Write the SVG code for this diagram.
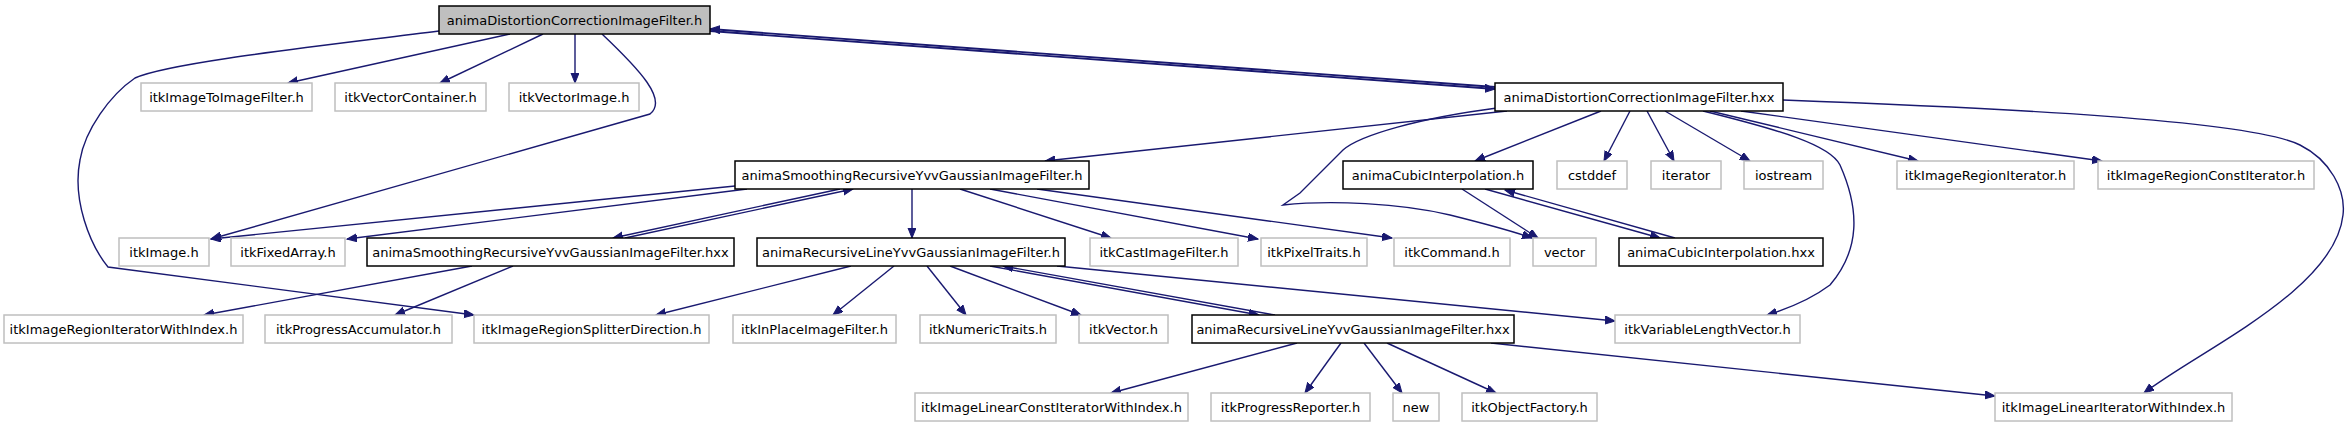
<svg xmlns="http://www.w3.org/2000/svg" width="2346" height="427" viewBox="0 0 2346 427">
<defs>
<style>
.n rect{fill:#fff;stroke:#bfbfbf;stroke-width:1.5}
.n.a rect{stroke:#000}
.n.r rect{fill:#bfbfbf;stroke:#000}
.n text{font-family:"DejaVu Sans",sans-serif;font-size:13px;fill:#000;text-anchor:middle}
#edges path{fill:none;stroke:#191970;stroke-width:1.4;marker-end:url(#ah)}
#edges path.b{stroke-width:1.8}
</style>
<marker id="ah" markerUnits="userSpaceOnUse" markerWidth="11" markerHeight="9" refX="10" refY="4" orient="auto" viewBox="0 0 11 9">
<path d="M0,0 L10,4 L0,8 z" fill="#191970" stroke="#191970" stroke-width="1"/>
</marker>
</defs>
<rect width="2346" height="427" fill="#fff"/>
<g id="edges">
<path d="M510,34 L288,83"/>
<path d="M543,34 L440,83"/>
<path d="M575,34 L575,83"/>
<path d="M602,34 C640,70 668,100 650,114 L211,239"/>
<path d="M439,31 C330,45 170,62 135,78 C110,95 85,130 80,160 C72,200 90,245 108,267 L474,315"/>
<path class="b" d="M710,31 L1495,89"/>
<path class="b" d="M1495,87 L710,29"/>
<path d="M1507,111 L1045,161"/>
<path d="M1497,108 C1420,118 1360,135 1343,150 L1300,193 L1283,205 C1330,200 1400,203 1450,215 C1490,225 1515,232 1532,238"/>
<path d="M1601,111 L1475,161"/>
<path d="M1630,111 L1604,161"/>
<path d="M1647,111 L1674,161"/>
<path d="M1665,111 L1750,161"/>
<path d="M1703,111 C1780,130 1830,145 1840,165 C1860,210 1860,250 1830,285 C1810,300 1790,308 1767,315"/>
<path d="M1710,111 L1918,161"/>
<path d="M1741,111 L2102,161"/>
<path d="M1783,100 C2000,108 2250,120 2300,145 C2330,160 2346,190 2343,215 C2335,290 2200,350 2144,393"/>
<path d="M735,186 L211,239"/>
<path d="M747,189 L347,239"/>
<path d="M840,189 L613,238"/>
<path d="M625,238 L853,189"/>
<path d="M912,189 L912,238"/>
<path d="M960,189 L1111,238"/>
<path d="M990,189 L1258,239"/>
<path d="M1037,189 L1392,238"/>
<path d="M472,266 L204,315"/>
<path d="M513,266 L395,315"/>
<path d="M851,266 L656,315"/>
<path d="M894,266 L833,315"/>
<path d="M927,266 L966,315"/>
<path d="M950,266 L1081,315"/>
<path d="M990,266 L1259,315"/>
<path d="M1275,315 L1003,266"/>
<path d="M1057,266 L1615,321"/>
<path d="M1297,343 L1111,393"/>
<path d="M1341,343 L1305,393"/>
<path d="M1364,343 L1402,393"/>
<path d="M1387,343 L1496,393"/>
<path d="M1491,343 L1995,396"/>
<path d="M1462,189 L1538,238"/>
<path d="M1485,189 L1660,238"/>
<path d="M1675,238 L1505,190"/>
</g>
<g id="n_root" class="n r"><rect x="439" y="6" width="271" height="28"/><text x="574.5" y="24.5">animaDistortionCorrectionImageFilter.h</text></g>
<g id="n_itkImageToImageFilter" class="n"><rect x="141" y="83" width="171" height="28"/><text x="226.5" y="101.5">itkImageToImageFilter.h</text></g>
<g id="n_itkVectorContainer" class="n"><rect x="335" y="83" width="151" height="28"/><text x="410.5" y="101.5">itkVectorContainer.h</text></g>
<g id="n_itkVectorImage" class="n"><rect x="509" y="83" width="130" height="28"/><text x="574" y="101.5">itkVectorImage.h</text></g>
<g id="n_hxx" class="n a"><rect x="1495" y="83" width="288" height="28"/><text x="1639" y="101.5">animaDistortionCorrectionImageFilter.hxx</text></g>
<g id="n_smoothing_h" class="n a"><rect x="735" y="161" width="354" height="28"/><text x="912" y="179.5">animaSmoothingRecursiveYvvGaussianImageFilter.h</text></g>
<g id="n_cubic_h" class="n a"><rect x="1343" y="161" width="190" height="28"/><text x="1438" y="179.5">animaCubicInterpolation.h</text></g>
<g id="n_cstddef" class="n"><rect x="1557" y="161" width="70" height="28"/><text x="1592" y="179.5">cstddef</text></g>
<g id="n_iterator" class="n"><rect x="1651" y="161" width="70" height="28"/><text x="1686" y="179.5">iterator</text></g>
<g id="n_iostream" class="n"><rect x="1744" y="161" width="79" height="28"/><text x="1783.5" y="179.5">iostream</text></g>
<g id="n_itkImageRegionIterator" class="n"><rect x="1897" y="161" width="177" height="28"/><text x="1985.5" y="179.5">itkImageRegionIterator.h</text></g>
<g id="n_itkImageRegionConstIterator" class="n"><rect x="2098" y="161" width="216" height="28"/><text x="2206" y="179.5">itkImageRegionConstIterator.h</text></g>
<g id="n_itkImage" class="n"><rect x="119" y="238" width="90" height="28"/><text x="164" y="256.5">itkImage.h</text></g>
<g id="n_itkFixedArray" class="n"><rect x="231" y="238" width="114" height="28"/><text x="288" y="256.5">itkFixedArray.h</text></g>
<g id="n_smoothing_hxx" class="n a"><rect x="367" y="238" width="367" height="28"/><text x="550.5" y="256.5">animaSmoothingRecursiveYvvGaussianImageFilter.hxx</text></g>
<g id="n_recline_h" class="n a"><rect x="757" y="238" width="308" height="28"/><text x="911" y="256.5">animaRecursiveLineYvvGaussianImageFilter.h</text></g>
<g id="n_itkCastImageFilter" class="n"><rect x="1090" y="238" width="148" height="28"/><text x="1164" y="256.5">itkCastImageFilter.h</text></g>
<g id="n_itkPixelTraits" class="n"><rect x="1261" y="238" width="106" height="28"/><text x="1314" y="256.5">itkPixelTraits.h</text></g>
<g id="n_itkCommand" class="n"><rect x="1394" y="238" width="116" height="28"/><text x="1452" y="256.5">itkCommand.h</text></g>
<g id="n_vector" class="n"><rect x="1533" y="238" width="63" height="28"/><text x="1564.5" y="256.5">vector</text></g>
<g id="n_cubic_hxx" class="n a"><rect x="1619" y="238" width="204" height="28"/><text x="1721" y="256.5">animaCubicInterpolation.hxx</text></g>
<g id="n_itkImageRegionIteratorWithIndex" class="n"><rect x="4" y="315" width="239" height="28"/><text x="123.5" y="333.5">itkImageRegionIteratorWithIndex.h</text></g>
<g id="n_itkProgressAccumulator" class="n"><rect x="265" y="315" width="187" height="28"/><text x="358.5" y="333.5">itkProgressAccumulator.h</text></g>
<g id="n_itkImageRegionSplitterDirection" class="n"><rect x="474" y="315" width="235" height="28"/><text x="591.5" y="333.5">itkImageRegionSplitterDirection.h</text></g>
<g id="n_itkInPlaceImageFilter" class="n"><rect x="733" y="315" width="163" height="28"/><text x="814.5" y="333.5">itkInPlaceImageFilter.h</text></g>
<g id="n_itkNumericTraits" class="n"><rect x="920" y="315" width="136" height="28"/><text x="988" y="333.5">itkNumericTraits.h</text></g>
<g id="n_itkVector" class="n"><rect x="1079" y="315" width="89" height="28"/><text x="1123.5" y="333.5">itkVector.h</text></g>
<g id="n_recline_hxx" class="n a"><rect x="1192" y="315" width="322" height="28"/><text x="1353" y="333.5">animaRecursiveLineYvvGaussianImageFilter.hxx</text></g>
<g id="n_itkVariableLengthVector" class="n"><rect x="1615" y="315" width="185" height="28"/><text x="1707.5" y="333.5">itkVariableLengthVector.h</text></g>
<g id="n_itkImageLinearConstIteratorWithIndex" class="n"><rect x="915" y="393" width="273" height="28"/><text x="1051.5" y="411.5">itkImageLinearConstIteratorWithIndex.h</text></g>
<g id="n_itkProgressReporter" class="n"><rect x="1211" y="393" width="159" height="28"/><text x="1290.5" y="411.5">itkProgressReporter.h</text></g>
<g id="n_new" class="n"><rect x="1393" y="393" width="46" height="28"/><text x="1416" y="411.5">new</text></g>
<g id="n_itkObjectFactory" class="n"><rect x="1462" y="393" width="135" height="28"/><text x="1529.5" y="411.5">itkObjectFactory.h</text></g>
<g id="n_itkImageLinearIteratorWithIndex" class="n"><rect x="1995" y="393" width="237" height="28"/><text x="2113.5" y="411.5">itkImageLinearIteratorWithIndex.h</text></g>
</svg>
